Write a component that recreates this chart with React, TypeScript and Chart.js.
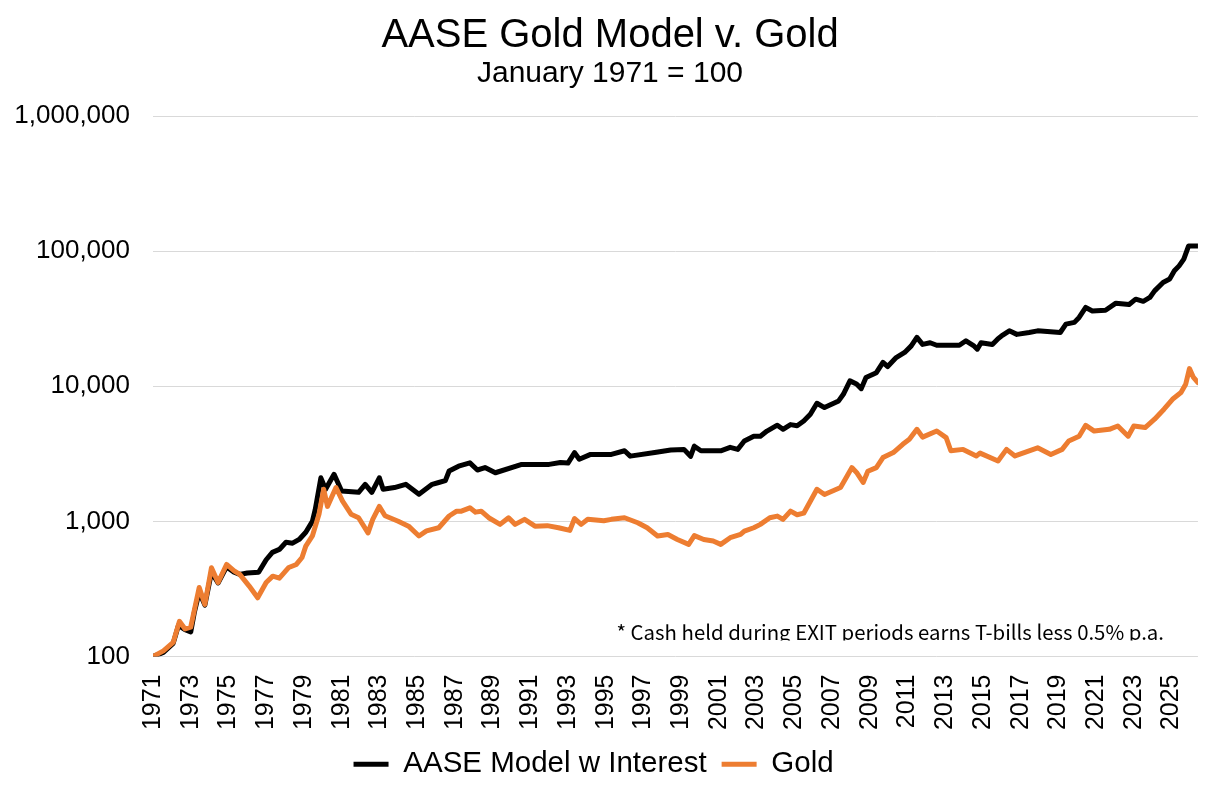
import React, { useEffect, useRef } from 'react';
import { Chart, registerables } from 'chart.js';

Chart.register(...registerables);

const titleText = 'AASE Gold Model v. Gold';
const subtitleText = 'January 1971 = 100';
const noteText = '* Cash held during EXIT periods earns T-bills less 0.5% p.a.';
const seriesLabels = ['AASE Model w Interest', 'Gold'];
const seriesColors = ['#000000', '#ED7D31'];

const xTickYears = [
  1971, 1973, 1975, 1977, 1979, 1981, 1983, 1985, 1987, 1989, 1991, 1993, 1995, 1997,
  1999, 2001, 2003, 2005, 2007, 2009, 2011, 2013, 2015, 2017, 2019, 2021, 2023, 2025,
];
const yTickValues = [100, 1000, 10000, 100000, 1000000];

// [year, index value]
const modelSeries: [number, number][] = [
  [1971.0, 100], [1971.55, 107], [1972.07, 125], [1972.35, 170], [1972.7, 158], [1973.0, 152],
  [1973.2, 215], [1973.45, 300], [1973.75, 240], [1974.1, 420], [1974.45, 350], [1974.9, 460],
  [1975.3, 420], [1975.6, 405], [1976.0, 415], [1976.6, 420], [1977.0, 520], [1977.33, 590],
  [1977.7, 620], [1978.05, 700], [1978.4, 690], [1978.75, 735], [1979.1, 830], [1979.45, 1000],
  [1979.6, 1220], [1979.9, 2100], [1980.15, 1730], [1980.6, 2230], [1981.0, 1680], [1981.9, 1640],
  [1982.25, 1880], [1982.6, 1640], [1983.0, 2100], [1983.2, 1730], [1983.8, 1780], [1984.4, 1880],
  [1985.1, 1590], [1985.8, 1880], [1986.15, 1940], [1986.5, 2000], [1986.7, 2360], [1987.2, 2560],
  [1987.8, 2710], [1988.2, 2400], [1988.6, 2500], [1989.15, 2290], [1990.55, 2640], [1991.4, 2640],
  [1992.0, 2640], [1992.6, 2730], [1993.0, 2700], [1993.35, 3230], [1993.6, 2880], [1994.2, 3130],
  [1995.3, 3130], [1996.0, 3330], [1996.3, 3040], [1997.6, 3230], [1998.45, 3370], [1999.15, 3410],
  [1999.5, 3030], [1999.7, 3600], [2000.05, 3330], [2001.1, 3330], [2001.6, 3530], [2002.0, 3410],
  [2002.35, 3930], [2002.85, 4270], [2003.2, 4270], [2003.55, 4660], [2004.1, 5150], [2004.4, 4800],
  [2004.8, 5200], [2005.15, 5100], [2005.5, 5530], [2005.85, 6200], [2006.2, 7480], [2006.6, 6950],
  [2007.35, 7790], [2007.6, 8720], [2007.95, 10960], [2008.3, 10400], [2008.55, 9600], [2008.8, 11600],
  [2009.35, 12600], [2009.7, 15000], [2009.95, 14000], [2010.4, 16300], [2010.85, 17800], [2011.2, 19900],
  [2011.5, 23000], [2011.8, 20400], [2012.2, 21000], [2012.55, 20100], [2013.75, 20100], [2014.1, 21700],
  [2014.5, 20000], [2014.7, 18800], [2014.9, 21000], [2015.5, 20400], [2015.8, 22500], [2016.05, 23900],
  [2016.4, 25700], [2016.8, 24200], [2017.45, 25000], [2017.9, 25700], [2019.1, 25000], [2019.4, 28800],
  [2019.85, 29700], [2020.1, 32300], [2020.45, 38300], [2020.8, 36100], [2021.5, 36500], [2022.05, 41200],
  [2022.75, 40300], [2023.1, 44100], [2023.5, 42500], [2023.85, 45400], [2024.1, 50800], [2024.55, 58600],
  [2024.9, 62100], [2025.15, 71500], [2025.4, 77800], [2025.65, 87300], [2025.9, 109000], [2026.4, 109000],
];

const goldSeries: [number, number][] = [
  [1971.0, 100], [1971.55, 110], [1972.07, 127], [1972.4, 182], [1972.7, 160], [1973.0, 165],
  [1973.2, 223], [1973.45, 324], [1973.75, 243], [1974.1, 454], [1974.45, 353], [1974.9, 480],
  [1975.3, 430], [1975.6, 405], [1976.1, 332], [1976.55, 272], [1977.0, 353], [1977.35, 393],
  [1977.7, 380], [1978.2, 456], [1978.6, 480], [1978.9, 540], [1979.1, 656], [1979.45, 780],
  [1979.8, 1130], [1980.05, 1730], [1980.25, 1290], [1980.7, 1780], [1981.05, 1410], [1981.5, 1130],
  [1981.9, 1064], [1982.4, 823], [1982.65, 1035], [1983.0, 1290], [1983.3, 1100], [1984.0, 1003],
  [1984.55, 922], [1985.1, 780], [1985.5, 850], [1986.15, 897], [1986.7, 1096], [1987.1, 1190],
  [1987.35, 1190], [1987.8, 1260], [1988.1, 1170], [1988.4, 1190], [1988.8, 1064], [1989.4, 950],
  [1989.85, 1064], [1990.2, 950], [1990.7, 1035], [1991.25, 922], [1991.9, 930], [1992.5, 897],
  [1993.1, 857], [1993.35, 1050], [1993.7, 950], [1994.05, 1035], [1994.9, 1010], [1995.3, 1035],
  [1996.0, 1064], [1996.7, 977], [1997.2, 897], [1997.75, 780], [1998.3, 800], [1998.8, 735],
  [1999.4, 676], [1999.7, 785], [2000.2, 735], [2000.7, 715], [2001.1, 676], [2001.6, 757],
  [2002.15, 800], [2002.35, 846], [2002.85, 897], [2003.2, 950], [2003.7, 1064], [2004.1, 1094],
  [2004.4, 1035], [2004.8, 1190], [2005.15, 1120], [2005.5, 1150], [2006.2, 1727], [2006.6, 1580],
  [2007.45, 1780], [2007.8, 2165], [2008.05, 2500], [2008.3, 2300], [2008.65, 1940], [2008.9, 2350],
  [2009.35, 2500], [2009.7, 2966], [2010.25, 3230], [2010.75, 3720], [2011.1, 4050], [2011.5, 4800],
  [2011.8, 4200], [2012.55, 4660], [2013.05, 4170], [2013.3, 3330], [2013.95, 3410], [2014.65, 3050],
  [2014.85, 3200], [2015.8, 2800], [2016.25, 3410], [2016.7, 3050], [2017.45, 3330], [2017.9, 3500],
  [2018.6, 3130], [2019.2, 3410], [2019.55, 3930], [2020.1, 4270], [2020.45, 5140], [2020.9, 4660],
  [2021.7, 4800], [2022.15, 5080], [2022.7, 4270], [2023.0, 5080], [2023.6, 4950], [2024.1, 5700],
  [2024.6, 6760], [2025.05, 8010], [2025.5, 8980], [2025.75, 10350], [2025.95, 13500], [2026.15, 11700],
  [2026.4, 10640],
];

const FONT = '"Liberation Sans", Arial, Helvetica, sans-serif';
const NOTE_FONT = '"Noto Sans CJK KR", "Noto Sans", sans-serif';

const notePlugin = {
  id: 'notePlugin',
  afterDatasetsDraw(chart: any) {
    const { ctx, chartArea } = chart;
    const right = chartArea.right - 34;
    const baseline = chartArea.bottom - 17;
    ctx.save();
    ctx.font = `20px ${NOTE_FONT}`;
    const w = ctx.measureText(noteText).width;
    const size = (20 * 548) / w;
    ctx.font = `${size}px ${NOTE_FONT}`;
    ctx.beginPath();
    ctx.rect(chartArea.left, chartArea.top, chartArea.right - chartArea.left, baseline + 1 - chartArea.top);
    ctx.clip();
    ctx.fillStyle = '#000';
    ctx.textAlign = 'right';
    ctx.textBaseline = 'alphabetic';
    ctx.fillText(noteText, right, baseline);
    ctx.restore();
  },
};

export default function App() {
  const ref = useRef<HTMLCanvasElement | null>(null);

  useEffect(() => {
    if (!ref.current) return;
    Chart.defaults.font.family = FONT;
    const chart = new Chart(ref.current, {
      type: 'line',
      data: {
        datasets: [
          {
            label: seriesLabels[0],
            data: modelSeries.map(([x, y]) => ({ x, y })),
            borderColor: seriesColors[0],
            backgroundColor: seriesColors[0],
            order: 1,
          },
          {
            label: seriesLabels[1],
            data: goldSeries.map(([x, y]) => ({ x, y })),
            borderColor: seriesColors[1],
            backgroundColor: seriesColors[1],
            order: 0,
          },
        ],
      },
      options: {
        responsive: false,
        animation: false,
        events: [],
        elements: {
          line: { borderWidth: 5, tension: 0, borderJoinStyle: 'round', borderCapStyle: 'round' },
          point: { radius: 0 },
        },
        layout: { padding: { left: 0, right: 0, top: 0, bottom: 8 } },
        scales: {
          x: {
            type: 'linear',
            min: 1971,
            max: 2026.4,
            afterBuildTicks: (s: any) => {
              s.ticks = xTickYears.map((v) => ({ value: v }));
            },
            afterFit: (s: any) => {
              s.height = 78;
            },
            ticks: {
              autoSkip: false,
              minRotation: 90,
              maxRotation: 90,
              padding: 18,
              color: '#000',
              font: { size: 25, family: FONT },
              callback: (v: any) => String(v),
            },
            grid: { display: false, drawTicks: false },
            border: { display: false },
          },
          y: {
            type: 'logarithmic',
            min: 100,
            max: 1000000,
            afterBuildTicks: (s: any) => {
              s.ticks = yTickValues.map((v) => ({ value: v }));
            },
            afterFit: (s: any) => {
              s.width = 153;
            },
            ticks: {
              padding: 23,
              color: '#000',
              font: { size: 26, family: FONT },
              callback: (v: any) => Number(v).toLocaleString('en-US'),
            },
            grid: { color: '#d9d9d9', lineWidth: 1, drawTicks: false },
            border: { display: false },
          },
          rightSpace: {
            type: 'linear',
            position: 'right',
            display: true,
            ticks: { display: false },
            grid: { display: false, drawTicks: false },
            border: { display: false },
            afterFit: (s: any) => {
              s.width = 18;
            },
          },
        },
        plugins: {
          title: {
            display: true,
            text: titleText,
            color: '#000',
            font: { size: 40, weight: 'normal', lineHeight: 1, family: FONT },
            padding: { top: 16, bottom: 0 },
          },
          subtitle: {
            display: true,
            text: subtitleText,
            color: '#000',
            font: { size: 30, weight: 'normal', lineHeight: 1, family: FONT },
            padding: { top: 3, bottom: 27 },
          },
          legend: {
            position: 'bottom',
            labels: {
              boxWidth: 35,
              boxHeight: 5,
              padding: 15,
              color: '#000',
              font: { size: 29.5, family: FONT },
              sort: (a: any, b: any) => a.datasetIndex - b.datasetIndex,
              generateLabels: (c: any) =>
                (Chart.defaults.plugins.legend.labels as any)
                  .generateLabels(c)
                  .map((l: any, i: number, arr: any[]) => ({
                    ...l,
                    lineWidth: 0,
                    fillStyle: l.strokeStyle,
                    text: i < arr.length - 1 ? l.text + '\u00a0\u00a0\u00a0\u00a0' : l.text,
                  })),
            },
          },
          tooltip: { enabled: false },
        },
      } as any,
      plugins: [notePlugin],
    });
    return () => chart.destroy();
  }, []);

  return (
    <div style={{ position: 'absolute', left: 0, top: 0, width: 1220, height: 797, background: '#fff' }}>
      <canvas ref={ref} width={1220} height={797} />
    </div>
  );
}
